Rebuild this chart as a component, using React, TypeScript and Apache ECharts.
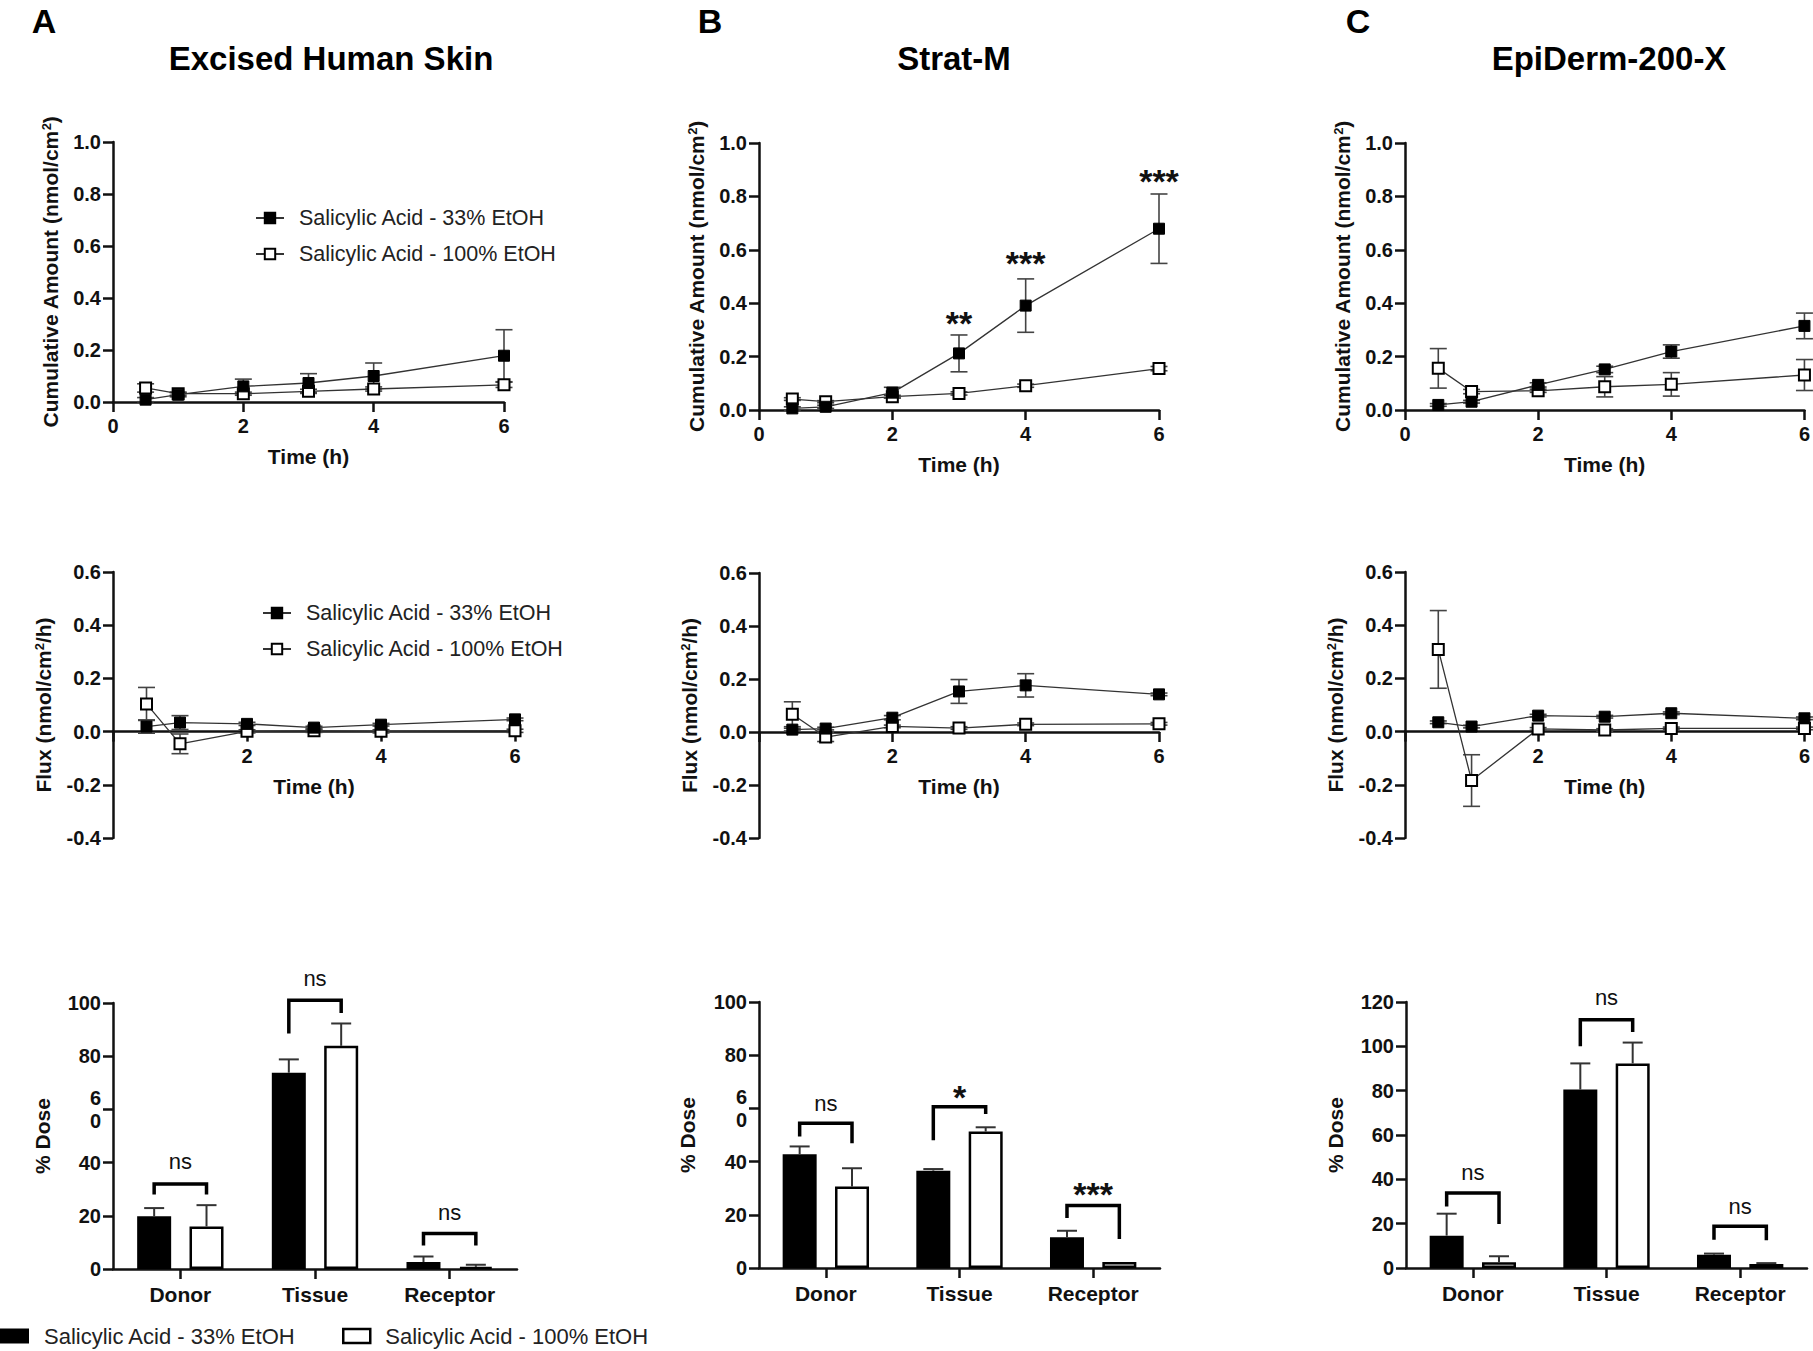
import React, { useEffect, useRef } from 'react';
import * as echarts from 'echarts';

const FONT = '"Liberation Sans", Arial, Helvetica, sans-serif';

const L33 = 'Salicylic Acid - 33% EtOH';
const L100 = 'Salicylic Acid - 100% EtOH';

// ---------- data ----------
const TIME = [0.5, 1, 2, 3, 4, 6];
const X_TICKS = [0, 2, 4, 6];

// Cumulative amount (nmol/cm2) mean and SD
const CUM_A_33 = [0.009, 0.028, 0.06, 0.073, 0.1, 0.178];
const CUM_A_33_SD = [0.008, 0.008, 0.028, 0.036, 0.05, 0.1];
const CUM_A_100 = [0.054, 0.032, 0.032, 0.041, 0.05, 0.066];
const CUM_A_100_SD = [0.016, 0.006, 0.006, 0.008, 0.008, 0.01];

const CUM_B_33 = [0.006, 0.012, 0.065, 0.212, 0.391, 0.679];
const CUM_B_33_SD = [0.006, 0.006, 0.02, 0.069, 0.1, 0.13];
const CUM_B_100 = [0.041, 0.031, 0.05, 0.062, 0.091, 0.155];
const CUM_B_100_SD = [0.005, 0.004, 0.005, 0.006, 0.006, 0.008];

const CUM_C_33 = [0.019, 0.031, 0.094, 0.152, 0.219, 0.315];
const CUM_C_33_SD = [0.005, 0.005, 0.008, 0.012, 0.025, 0.048];
const CUM_C_100 = [0.156, 0.069, 0.072, 0.087, 0.096, 0.131];
const CUM_C_100_SD = [0.074, 0.008, 0.006, 0.038, 0.044, 0.058];

// Flux (nmol/cm2/h) mean and SD
const FLUX_A_33 = [0.019, 0.034, 0.029, 0.015, 0.026, 0.046];
const FLUX_A_33_SD = [0.025, 0.026, 0.006, 0.005, 0.005, 0.005];
const FLUX_A_100 = [0.104, -0.046, 0.001, 0.003, 0.001, 0.003];
const FLUX_A_100_SD = [0.062, 0.037, 0.006, 0.006, 0.006, 0.006];

const FLUX_B_33 = [0.009, 0.013, 0.054, 0.153, 0.176, 0.142];
const FLUX_B_33_SD = [0.005, 0.005, 0.008, 0.045, 0.044, 0.005];
const FLUX_B_100 = [0.067, -0.019, 0.021, 0.015, 0.029, 0.031];
const FLUX_B_100_SD = [0.047, 0.017, 0.005, 0.005, 0.005, 0.005];

const FLUX_C_33 = [0.035, 0.019, 0.06, 0.056, 0.069, 0.05];
const FLUX_C_33_SD = [0.005, 0.005, 0.005, 0.005, 0.005, 0.005];
const FLUX_C_100 = [0.309, -0.184, 0.01, 0.006, 0.012, 0.012];
const FLUX_C_100_SD = [0.146, 0.097, 0.005, 0.005, 0.005, 0.005];

// Strat-M significance marks on cumulative plot
const STAR_B_X = [3, 4, 6];
const STAR_B_Y = [0.352, 0.575, 0.885];
const STAR_B_TEXT = ['**', '***', '***'];

// % Dose bars
const CATS = ['Donor', 'Tissue', 'Receptor'];
const DOSE_A_33 = [19.8, 73.8, 2.6];
const DOSE_A_33_SD = [3.1, 5.0, 2.1];
const DOSE_A_100 = [16.0, 83.9, 0.8];
const DOSE_A_100_SD = [8.0, 8.4, 0.8];

const DOSE_B_33 = [42.8, 36.6, 11.6];
const DOSE_B_33_SD = [2.9, 0.6, 2.4];
const DOSE_B_100 = [30.6, 51.3, 2.3];
const DOSE_B_100_SD = [6.9, 1.6, 0];

const DOSE_C_33 = [14.6, 80.5, 6.0];
const DOSE_C_33_SD = [9.9, 11.8, 0.5];
const DOSE_C_100 = [2.6, 92.3, 1.8];
const DOSE_C_100_SD = [2.7, 9.4, 0.4];

// brackets: [left leg bottom, top, right leg bottom, label y]
const BR_A_LEFT = [28, 88.5, 8.8];
const BR_A_TOP = [32, 101, 13.3];
const BR_A_RIGHT = [28, 96.2, 8.8];
const BR_A_LABEL_Y = [39.7, 108.5, 20.4];
const BR_A_TEXT = ['ns', 'ns', 'ns'];

const BR_B_LEFT = [49.4, 48, 18.8];
const BR_B_TOP = [54.4, 60.6, 23.5];
const BR_B_RIGHT = [46.9, 57.9, 10.9];
const BR_B_LABEL_Y = [61, 66.9, 30.3];
const BR_B_TEXT = ['ns', '*', '***'];

const BR_C_LEFT = [27.8, 100, 12.8];
const BR_C_TOP = [33.8, 112, 18.8];
const BR_C_RIGHT = [19.8, 106.5, 12.5];
const BR_C_LABEL_Y = [42.3, 121, 27];
const BR_C_TEXT = ['ns', 'ns', 'ns'];

// ---------- layout ----------
const GRIDS = [
  { left: 113, top: 142, width: 391, height: 260 },
  { left: 759, top: 143, width: 400, height: 267 },
  { left: 1405, top: 143, width: 401, height: 267 },
  { left: 113, top: 572, width: 402, height: 266 },
  { left: 759, top: 573, width: 400, height: 265 },
  { left: 1405, top: 572, width: 401, height: 266 },
  { left: 113, top: 1003, width: 404, height: 266 },
  { left: 759, top: 1002, width: 401, height: 266 },
  { left: 1406, top: 1002, width: 401, height: 266 },
];

const FLUX_MIN = -0.4;
const FLUX_MAX = 0.6;

const BAR_W = 34;
const BAR_GAP = 0.54;
const OFF = (BAR_W + BAR_W * BAR_GAP) / 2;

const AX_COLOR = '#111';
const AXLINE = { show: true, lineStyle: { color: AX_COLOR, width: 2.5 } };
const AXTICK = { show: true, length: 10, lineStyle: { color: AX_COLOR, width: 2.5 } };
const TICK_LABEL = { fontFamily: FONT, fontSize: 20, fontWeight: 'bold' as const, color: AX_COLOR };
const NAME_STYLE = {
  fontFamily: FONT,
  fontSize: 21,
  fontWeight: 'bold' as const,
  color: AX_COLOR,
  rich: {
    sup: { fontFamily: FONT, fontSize: 13, fontWeight: 'bold' as const, color: AX_COLOR, verticalAlign: 'top' as const },
  },
};

function errLineRender(cap: number) {
  return (params: any, api: any) => {
    const x = api.value(0);
    const m = api.value(1);
    const s = api.value(2);
    const hi = api.coord([x, m + s]);
    const lo = api.coord([x, m - s]);
    const style = { stroke: '#444', lineWidth: 1.6 };
    return {
      type: 'group',
      children: [
        { type: 'line', shape: { x1: hi[0], y1: hi[1], x2: lo[0], y2: lo[1] }, style },
        { type: 'line', shape: { x1: hi[0] - cap, y1: hi[1], x2: hi[0] + cap, y2: hi[1] }, style },
        { type: 'line', shape: { x1: lo[0] - cap, y1: lo[1], x2: lo[0] + cap, y2: lo[1] }, style },
      ],
    };
  };
}

function barErrRender(params: any, api: any) {
  const c = api.value(0);
  const m = api.value(1);
  const s = api.value(2);
  const side = api.value(3);
  if (!(s > 0)) return null;
  const base = api.coord([c, m]);
  const top = api.coord([c, m + s]);
  const x = base[0] + side * OFF;
  const style = { stroke: '#333', lineWidth: 2 };
  return {
    type: 'group',
    children: [
      { type: 'line', shape: { x1: x, y1: base[1], x2: x, y2: top[1] }, style },
      { type: 'line', shape: { x1: x - 10, y1: top[1], x2: x + 10, y2: top[1] }, style },
    ],
  };
}

function bracketRender(labels: string[]) {
  return (params: any, api: any) => {
    const c = api.value(0);
    const pl = api.coord([c, api.value(1)]);
    const pt = api.coord([c, api.value(2)]);
    const pr = api.coord([c, api.value(3)]);
    const pLab = api.coord([c, api.value(4)]);
    const xl = pt[0] - OFF;
    const xr = pt[0] + OFF;
    const label = labels[params.dataIndex];
    const star = label.indexOf('*') >= 0;
    return {
      type: 'group',
      children: [
        {
          type: 'polyline',
          shape: { points: [[xl, pl[1]], [xl, pt[1]], [xr, pt[1]], [xr, pr[1]]] },
          style: { stroke: '#000', lineWidth: 3.5, fill: 'none', lineJoin: 'miter' },
        },
        {
          type: 'text',
          x: pt[0],
          y: pLab[1] + (star ? 7 : -2),
          style: {
            text: label,
            fontFamily: FONT,
            fontSize: star ? 34 : 22,
            fontWeight: star ? 'bold' : 'normal',
            fill: '#111',
            align: 'center',
            verticalAlign: 'middle',
          },
        },
      ],
    };
  };
}

function starRender(labels: string[]) {
  return (params: any, api: any) => {
    const p = api.coord([api.value(0), api.value(1)]);
    return {
      type: 'text',
      x: p[0],
      y: p[1] + 7,
      style: {
        text: labels[params.dataIndex],
        fontFamily: FONT,
        fontSize: 34,
        fontWeight: 'bold',
        fill: '#111',
        align: 'center',
        verticalAlign: 'middle',
      },
    };
  };
}

function buildOption() {
  const grid = GRIDS.map((g) => ({ ...g }));
  const xAxis: any[] = [];
  const yAxis: any[] = [];
  const series: any[] = [];

  const lineSets = [
    [CUM_A_33, CUM_A_33_SD, CUM_A_100, CUM_A_100_SD],
    [CUM_B_33, CUM_B_33_SD, CUM_B_100, CUM_B_100_SD],
    [CUM_C_33, CUM_C_33_SD, CUM_C_100, CUM_C_100_SD],
    [FLUX_A_33, FLUX_A_33_SD, FLUX_A_100, FLUX_A_100_SD],
    [FLUX_B_33, FLUX_B_33_SD, FLUX_B_100, FLUX_B_100_SD],
    [FLUX_C_33, FLUX_C_33_SD, FLUX_C_100, FLUX_C_100_SD],
  ];
  const topNameGap = 52;
  const midNameGap = 59;

  lineSets.forEach((set, i) => {
    const isTop = i < 3;
    const yMin = isTop ? 0 : FLUX_MIN;
    const yMax = isTop ? 1 : FLUX_MAX;
    // the time axis sits on y = 0 (moved up from the grid bottom)
    const zeroShift = (GRIDS[i].height * (0 - yMin)) / (yMax - yMin);
    xAxis.push({
      type: 'value',
      gridIndex: i,
      min: X_TICKS[0],
      max: X_TICKS[X_TICKS.length - 1],
      interval: X_TICKS[1] - X_TICKS[0],
      offset: -zeroShift,
      axisLine: { ...AXLINE, onZero: false },
      axisTick: AXTICK,
      splitLine: { show: false },
      axisLabel: {
        ...TICK_LABEL,
        margin: 14,
        formatter: (v: number) => (!isTop && v === 0 ? '' : String(v)),
      },
      name: 'Time (h)',
      nameLocation: 'middle',
      nameGap: 44,
      nameTextStyle: { fontFamily: FONT, fontSize: 21, fontWeight: 'bold', color: AX_COLOR },
    });
    yAxis.push({
      type: 'value',
      gridIndex: i,
      min: yMin,
      max: yMax,
      interval: 0.2,
      axisLine: { ...AXLINE, onZero: false },
      axisTick: AXTICK,
      splitLine: { show: false },
      axisLabel: { ...TICK_LABEL, margin: 12, formatter: (v: number) => (Math.abs(v) < 1e-9 ? '0.0' : v.toFixed(1)) },
      name: isTop ? 'Cumulative Amount (nmol/cm{sup|2})' : 'Flux (nmol/cm{sup|2}/h)',
      nameLocation: 'middle',
      nameRotate: 90,
      nameGap: isTop ? topNameGap : midNameGap,
      nameTextStyle: NAME_STYLE,
    });
    const [m33, s33, m100, s100] = set;
    series.push({
      type: 'custom',
      xAxisIndex: i,
      yAxisIndex: i,
      data: TIME.map((t, k) => [t, m33[k], s33[k]]),
      renderItem: errLineRender(8.5),
      silent: true,
      z: 1,
    });
    series.push({
      type: 'custom',
      xAxisIndex: i,
      yAxisIndex: i,
      data: TIME.map((t, k) => [t, m100[k], s100[k]]),
      renderItem: errLineRender(8.5),
      silent: true,
      z: 1,
    });
    series.push({
      type: 'line',
      name: L100,
      xAxisIndex: i,
      yAxisIndex: i,
      data: TIME.map((t, k) => [t, m100[k]]),
      symbol: 'rect',
      symbolSize: 11,
      clip: false,
      lineStyle: { color: '#333', width: 1.3 },
      itemStyle: { color: '#fff', borderColor: '#000', borderWidth: 2 },
      z: 3,
    });
    series.push({
      type: 'line',
      name: L33,
      xAxisIndex: i,
      yAxisIndex: i,
      data: TIME.map((t, k) => [t, m33[k]]),
      symbol: 'rect',
      symbolSize: 11,
      clip: false,
      lineStyle: { color: '#333', width: 1.3 },
      itemStyle: { color: '#000', borderColor: '#000', borderWidth: 1 },
      z: 4,
    });
  });

  // stars on Strat-M cumulative
  series.push({
    type: 'custom',
    xAxisIndex: 1,
    yAxisIndex: 1,
    data: STAR_B_X.map((x, k) => [x, STAR_B_Y[k]]),
    renderItem: starRender(STAR_B_TEXT),
    silent: true,
    z: 5,
  });

  const barSets = [
    { m33: DOSE_A_33, s33: DOSE_A_33_SD, m100: DOSE_A_100, s100: DOSE_A_100_SD, max: 100,
      br: [BR_A_LEFT, BR_A_TOP, BR_A_RIGHT, BR_A_LABEL_Y], txt: BR_A_TEXT, gap: 60 },
    { m33: DOSE_B_33, s33: DOSE_B_33_SD, m100: DOSE_B_100, s100: DOSE_B_100_SD, max: 100,
      br: [BR_B_LEFT, BR_B_TOP, BR_B_RIGHT, BR_B_LABEL_Y], txt: BR_B_TEXT, gap: 61 },
    { m33: DOSE_C_33, s33: DOSE_C_33_SD, m100: DOSE_C_100, s100: DOSE_C_100_SD, max: 120,
      br: [BR_C_LEFT, BR_C_TOP, BR_C_RIGHT, BR_C_LABEL_Y], txt: BR_C_TEXT, gap: 60 },
  ];

  barSets.forEach((b, j) => {
    const i = 6 + j;
    const split60 = b.max === 100;
    xAxis.push({
      type: 'category',
      gridIndex: i,
      data: CATS,
      axisLine: AXLINE,
      axisTick: { ...AXTICK, alignWithLabel: true },
      axisLabel: { ...TICK_LABEL, fontSize: 21, margin: 15 },
    });
    yAxis.push({
      type: 'value',
      gridIndex: i,
      min: 0,
      max: b.max,
      interval: 20,
      axisLine: AXLINE,
      axisTick: AXTICK,
      splitLine: { show: false },
      axisLabel: {
        ...TICK_LABEL,
        margin: 12,
        lineHeight: 23,
        formatter: (v: number) => (split60 && v === 60 ? '6\n0' : String(v)),
      },
      name: '% Dose',
      nameLocation: 'middle',
      nameRotate: 90,
      nameGap: b.gap,
      nameTextStyle: NAME_STYLE,
    });
    series.push({
      type: 'bar',
      name: 'bar33',
      xAxisIndex: i,
      yAxisIndex: i,
      data: b.m33,
      barWidth: BAR_W,
      barGap: `${BAR_GAP * 100}%`,
      itemStyle: { color: '#000' },
      z: 2,
    });
    series.push({
      type: 'bar',
      name: 'bar100',
      xAxisIndex: i,
      yAxisIndex: i,
      data: b.m100,
      barWidth: BAR_W,
      barGap: `${BAR_GAP * 100}%`,
      itemStyle: { color: '#fff', borderColor: '#000', borderWidth: 2.5 },
      z: 2,
    });
    series.push({
      type: 'custom',
      xAxisIndex: i,
      yAxisIndex: i,
      data: [
        ...b.m33.map((m, k) => [k, m, b.s33[k], -1]),
        ...b.m100.map((m, k) => [k, m, b.s100[k], 1]),
      ],
      renderItem: barErrRender,
      silent: true,
      z: 3,
    });
    series.push({
      type: 'custom',
      xAxisIndex: i,
      yAxisIndex: i,
      data: CATS.map((_, k) => [k, b.br[0][k], b.br[1][k], b.br[2][k], b.br[3][k]]),
      renderItem: bracketRender(b.txt),
      silent: true,
      clip: false,
      z: 4,
    });
  });

  const legendText = { fontFamily: FONT, fontSize: 21.5, color: '#222', lineHeight: 22, padding: [0, 0, 0, 10] };
  const barNames: Record<string, string> = { bar33: L33, bar100: L100 };

  const legend = [
    {
      data: [L33, L100],
      orient: 'vertical',
      left: 255,
      top: 207,
      itemWidth: 28,
      itemHeight: 13,
      itemGap: 14,
      padding: 0,
      selectedMode: false,
      textStyle: legendText,
    },
    {
      data: [L33, L100],
      orient: 'vertical',
      left: 262,
      top: 602,
      itemWidth: 28,
      itemHeight: 13,
      itemGap: 14,
      padding: 0,
      selectedMode: false,
      textStyle: legendText,
    },
    {
      data: [{ name: 'bar33', icon: 'rect', itemStyle: { color: '#000', borderWidth: 0 } }],
      left: 0,
      top: 1325,
      itemWidth: 29,
      itemHeight: 15,
      padding: 0,
      selectedMode: false,
      formatter: (n: string) => barNames[n],
      textStyle: { ...legendText, fontSize: 22, padding: [0, 0, 0, 10] },
    },
    {
      data: [{ name: 'bar100', icon: 'rect', itemStyle: { color: '#fff', borderColor: '#000', borderWidth: 2.5 } }],
      left: 342,
      top: 1325,
      itemWidth: 27,
      itemHeight: 14,
      padding: 0,
      selectedMode: false,
      formatter: (n: string) => barNames[n],
      textStyle: { ...legendText, fontSize: 22, padding: [0, 0, 0, 10] },
    },
  ];

  const headStyle = (text: string, size: number, vAlign: string) => ({
    text,
    fontFamily: FONT,
    fontSize: size,
    fontWeight: 'bold',
    fill: '#000',
    align: 'center',
    verticalAlign: vAlign,
  });

  const graphic = [
    { type: 'text', x: 44, y: 4, style: headStyle('A', 34, 'top') },
    { type: 'text', x: 710, y: 4, style: headStyle('B', 34, 'top') },
    { type: 'text', x: 1358, y: 4, style: headStyle('C', 34, 'top') },
    { type: 'text', x: 331, y: 58, style: headStyle('Excised Human Skin', 33, 'middle') },
    { type: 'text', x: 954, y: 58, style: headStyle('Strat-M', 33, 'middle') },
    { type: 'text', x: 1609, y: 58, style: headStyle('EpiDerm-200-X', 33, 'middle') },
  ];

  return {
    animation: false,
    backgroundColor: '#fff',
    textStyle: { fontFamily: FONT },
    grid,
    xAxis,
    yAxis,
    series,
    legend,
    graphic,
  };
}

export default function App() {
  const ref = useRef<HTMLDivElement>(null);
  useEffect(() => {
    document.body.style.margin = '0';
    const chart = echarts.init(ref.current as HTMLDivElement, undefined, { renderer: 'svg' });
    chart.setOption(buildOption() as any);
    return () => chart.dispose();
  }, []);
  return <div ref={ref} style={{ width: 1813, height: 1351, background: '#fff' }} />;
}
